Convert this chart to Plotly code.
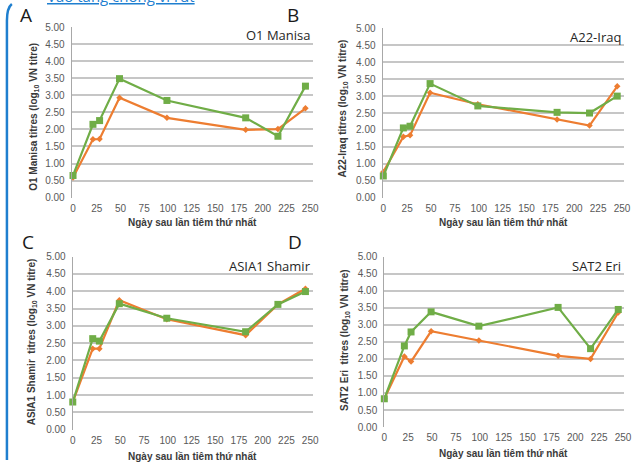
import plotly.graph_objects as go

# ---------------- data ----------------
days = [0, 21, 28, 49, 99, 182, 216, 245]

a_title = "O1 Manisa"
a_green = [0.65, 2.15, 2.26, 3.49, 2.85, 2.34, 1.80, 3.27]
a_orange = [0.59, 1.71, 1.72, 2.93, 2.34, 1.99, 2.01, 2.62]

b_title = "A22-Iraq"
b_green = [0.64, 2.06, 2.11, 3.37, 2.71, 2.52, 2.50, 3.00]
b_orange = [0.76, 1.80, 1.84, 3.10, 2.76, 2.31, 2.13, 3.29]

c_title = "ASIA1 Shamir"
c_green = [0.80, 2.63, 2.56, 3.64, 3.22, 2.83, 3.62, 3.99]
c_orange = [0.80, 2.34, 2.34, 3.74, 3.19, 2.73, 3.62, 4.07]

d_title = "SAT2 Eri"
d_green = [0.83, 2.38, 2.79, 3.38, 2.96, 3.51, 2.30, 3.45]
d_orange = [0.83, 2.07, 1.92, 2.81, 2.54, 2.09, 2.00, 3.36]

y_titles = [
    "O1 Manisa titres (log<sub>10</sub> VN titre)",
    "A22-Iraq titres (log<sub>10</sub> VN titre)",
    "ASIA1 Shamir  titres (log<sub>10</sub> VN titre)",
    "SAT2 Eri  titres (log<sub>10</sub> VN titre)",
]
x_title = "Ngày sau lần tiêm thứ nhất"
letters = ["A", "B", "C", "D"]
x_ticks = [0, 25, 50, 75, 100, 125, 150, 175, 200, 225, 250]
y_ticks = [0, 0.5, 1, 1.5, 2, 2.5, 3, 3.5, 4, 4.5, 5]
top_link = "Vào tăng chống vi rút"

# ---------------- layout helpers ----------------
W, H = 638, 465
GREEN = "#70ad47"
ORANGE = "#ed7d31"
GRID = "#c6c6c6"
TICKC = "#595959"
AXT = "#3a3a3a"

def px(x):
    return x / W

def py(y):
    return 1 - y / H

# panel geometry in pixels: left, right, top, bottom, xrange
panels = [
    dict(l=70, r=315, t=22.7, b=197.3, xr=[-1.3, 252.5], green=a_green, orange=a_orange, title=a_title,
         title_xy=(315, 30.7), ytitle_xy=(32, 114), xtitle_y=222.5, letter_xy=(23, 10)),
    dict(l=386.3, r=631.5, t=24, b=197.3, xr=[-0.7, 251.7], green=b_green, orange=b_orange, title=b_title,
         title_xy=(631, 32.5), ytitle_xy=(346, 106), xtitle_y=222.5, letter_xy=(295, 10)),
    dict(l=71, r=315, t=257.7, b=435, xr=[0, 252.5], green=c_green, orange=c_orange, title=c_title,
         title_xy=(315, 267), ytitle_xy=(29, 345), xtitle_y=462, letter_xy=(25, 243)),
    dict(l=388, r=631.5, t=257.7, b=432.3, xr=[0, 250.6], green=d_green, orange=d_orange, title=d_title,
         title_xy=(631, 267), ytitle_xy=(348, 343), xtitle_y=459.5, letter_xy=(297, 243)),
]

fig = go.Figure()
annotations = []
layout_axes = {}

for i, p in enumerate(panels):
    n = "" if i == 0 else str(i + 1)
    xa, ya = "x" + n, "y" + n
    fig.add_trace(go.Scatter(
        x=days, y=p["orange"], xaxis=xa, yaxis=ya, mode="lines+markers",
        line=dict(color=ORANGE, width=2.2),
        marker=dict(symbol="diamond", size=5, color=ORANGE),
        showlegend=False, cliponaxis=False,
    ))
    fig.add_trace(go.Scatter(
        x=days, y=p["green"], xaxis=xa, yaxis=ya, mode="lines+markers",
        line=dict(color=GREEN, width=2.2),
        marker=dict(symbol="square", size=7, color=GREEN),
        showlegend=False, cliponaxis=False,
    ))
    layout_axes["xaxis" + n] = dict(
        domain=[px(p["l"]), px(p["r"])], range=p["xr"], anchor=ya,
        tickvals=x_ticks, ticks="outside", ticklen=1, tickcolor="rgba(0,0,0,0)",
        tickfont=dict(family="Liberation Sans, Arial", size=10, color=TICKC),
        showgrid=False, zeroline=False, showline=False, fixedrange=True,
    )
    layout_axes["yaxis" + n] = dict(
        domain=[py(p["b"]), py(p["t"])], range=[0, 5], anchor=xa,
        tickvals=y_ticks, tickformat=".2f", ticks="outside", ticklen=4,
        tickcolor="rgba(0,0,0,0)",
        tickfont=dict(family="Liberation Sans, Arial", size=10, color=TICKC),
        showgrid=True, gridcolor=GRID, gridwidth=1.5, zeroline=False,
        showline=True, linecolor="#a8a8a8", linewidth=1.2, fixedrange=True,
    )
    # panel title
    annotations.append(dict(
        text=p["title"], xref="paper", yref="paper",
        x=px(p["title_xy"][0]), y=py(p["title_xy"][1]),
        xanchor="right", yanchor="middle", showarrow=False,
        font=dict(family="Open Sans", size=13, color="#262626"),
    ))
    # y axis title
    annotations.append(dict(
        text="<b>" + y_titles[i] + "</b>", xref="paper", yref="paper",
        x=px(p["ytitle_xy"][0]), y=py(p["ytitle_xy"][1]),
        xanchor="center", yanchor="middle", textangle=-90, showarrow=False,
        font=dict(family="Liberation Sans, Arial", size=10, color=AXT),
    ))
    # x axis title
    annotations.append(dict(
        text="<b>" + x_title + "</b>", xref="paper", yref="paper",
        x=px((p["l"] + p["r"]) / 2), y=py(p["xtitle_y"]),
        xanchor="center", yanchor="middle", showarrow=False,
        font=dict(family="Liberation Sans, Arial", size=10, color=AXT),
    ))
    # panel letter
    annotations.append(dict(
        text=letters[i], xref="paper", yref="paper",
        x=px(p["letter_xy"][0]), y=py(p["letter_xy"][1]),
        xanchor="center", yanchor="middle", showarrow=False,
        font=dict(family="Open Sans", size=19, color="#1a1a1a"),
    ))

# clipped link text at the very top
annotations.append(dict(
    text="<u>" + top_link + "</u>", xref="paper", yref="paper",
    x=px(43), y=py(-9), xanchor="left", yanchor="middle", showarrow=False,
    font=dict(family="Open Sans", size=15, color="#1f7fcf"),
))

border_path = "M {x0},{y0} Q {cx},{cy} {x1},{y1} L {x2},{y2}".format(
    x0=px(9), y0=py(-1), cx=px(4), cy=py(3), x1=px(4), y1=py(16), x2=px(4), y2=py(466)
)

fig.update_layout(
    width=W, height=H, margin=dict(l=0, r=0, t=0, b=0),
    paper_bgcolor="white", plot_bgcolor="white",
    showlegend=False, annotations=annotations,
    shapes=[dict(type="path", path=border_path, xref="paper", yref="paper",
                 line=dict(color="#1f7fcf", width=2.5))],
    **layout_axes,
)

fig.write_html("out.html", config={"displayModeBar": False})
